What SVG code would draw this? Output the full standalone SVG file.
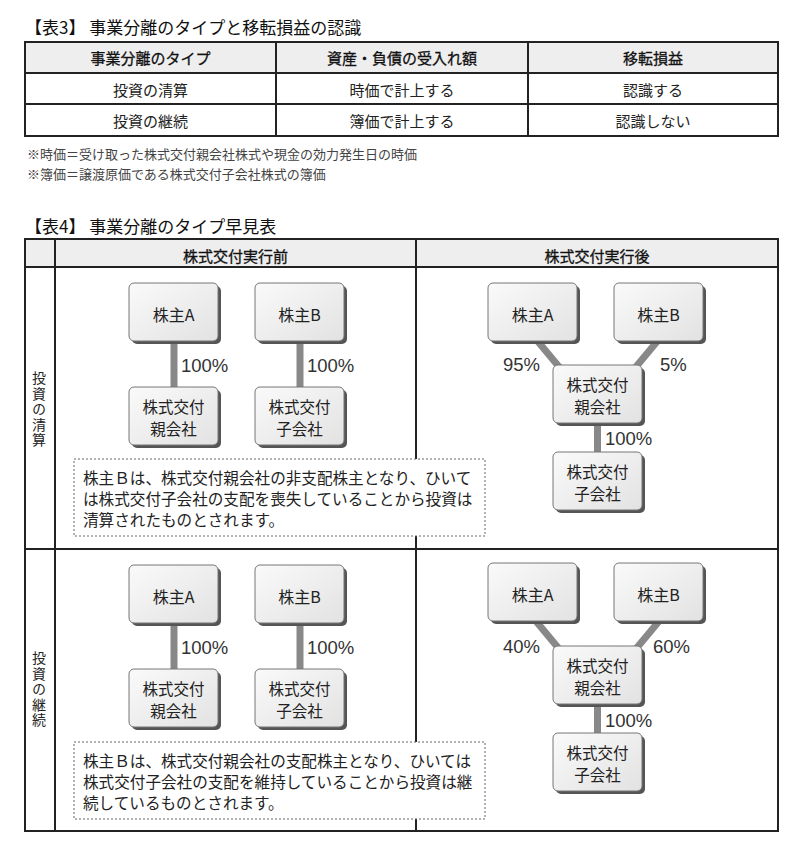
<svg xmlns="http://www.w3.org/2000/svg" width="800" height="851" viewBox="0 0 800 851">
<defs>
<linearGradient id="bg" x1="0" y1="0" x2="1" y2="1">
<stop offset="0" stop-color="#fafafa"/>
<stop offset="1" stop-color="#e2e2e2"/>
</linearGradient>
<style>
text{font-family:"Noto Sans CJK JP","Noto Sans",sans-serif;fill:#222}
.title{font-size:17px;fill:#111}
.th{font-size:15px;text-anchor:middle;fill:#111;stroke:#111;stroke-width:0.3}
.td{font-size:15px;text-anchor:middle}
.note{font-size:13px;fill:#444}
.grid{stroke:#222;stroke-width:2;fill:none}
.hdr{fill:#eeeeee}
.shadow{fill:#555}
.face{fill:url(#bg);stroke:#777;stroke-width:1}
.bl{font-size:16px;text-anchor:middle}
.bl2{font-size:15.5px;text-anchor:middle}
.pct{font-family:"Liberation Sans",Arial,sans-serif;font-size:18.5px;fill:#333}
.bar{stroke:#888;stroke-width:7;fill:none}
.vt{font-size:14px;writing-mode:vertical-rl;letter-spacing:1.5px}
.dash{fill:#fff;stroke:#666;stroke-width:1;stroke-dasharray:2 2}
.para{font-size:15.6px}
</style>
</defs>
<rect width="800" height="851" fill="#fff"/>

<!-- Table 3 -->
<g id="table3">
<text class="title" x="25" y="34">【表3】 事業分離のタイプと移転損益の認識</text>
<rect class="hdr" x="25" y="42" width="753" height="31"/>
<rect class="grid" x="25" y="42" width="753" height="94"/>
<line class="grid" x1="25" y1="73" x2="778" y2="73"/>
<line class="grid" x1="25" y1="104" x2="778" y2="104"/>
<line class="grid" x1="276" y1="42" x2="276" y2="136"/>
<line class="grid" x1="528" y1="42" x2="528" y2="136"/>
<text class="th" x="150.5" y="64">事業分離のタイプ</text>
<text class="th" x="402" y="64">資産・負債の受入れ額</text>
<text class="th" x="653" y="64">移転損益</text>
<text class="td" x="150.5" y="96">投資の清算</text>
<text class="td" x="402" y="96">時価で計上する</text>
<text class="td" x="653" y="96">認識する</text>
<text class="td" x="150.5" y="127">投資の継続</text>
<text class="td" x="402" y="127">簿価で計上する</text>
<text class="td" x="653" y="127">認識しない</text>
<text class="note" x="27" y="159">※時価＝受け取った株式交付親会社株式や現金の効力発生日の時価</text>
<text class="note" x="27" y="179">※簿価＝譲渡原価である株式交付子会社株式の簿価</text>
</g>

<!-- Table 4 frame -->
<g id="table4">
<text class="title" x="25" y="233">【表4】 事業分離のタイプ早見表</text>
<rect class="hdr" x="25" y="239" width="753" height="28"/>
<rect class="grid" x="25" y="239" width="753" height="592"/>
<line class="grid" x1="25" y1="267" x2="778" y2="267"/>
<line class="grid" x1="25" y1="549" x2="778" y2="549"/>
<line class="grid" x1="55" y1="239" x2="55" y2="831"/>
<line class="grid" x1="416" y1="239" x2="416" y2="831"/>
<text class="th" x="235.5" y="262">株式交付実行前</text>
<text class="th" x="597" y="262">株式交付実行後</text>
<text id="label-seisan" class="vt" x="39" y="371">投資の清算</text>
<text id="label-keizoku" class="vt" x="39" y="651">投資の継続</text>
</g>

<!-- Connectors -->
<g id="connectors">
<line class="bar" x1="174" y1="340" x2="174" y2="388"/>
<line class="bar" x1="300" y1="340" x2="300" y2="388"/>
<line class="bar" x1="535" y1="338" x2="560" y2="368"/>
<line class="bar" x1="660" y1="338" x2="635" y2="368"/>
<line class="bar" x1="597.5" y1="421" x2="597.5" y2="453"/>
<line class="bar" x1="174" y1="622" x2="174" y2="670"/>
<line class="bar" x1="300" y1="622" x2="300" y2="670"/>
<line class="bar" x1="535" y1="620" x2="560" y2="650"/>
<line class="bar" x1="660" y1="620" x2="635" y2="650"/>
<line class="bar" x1="597.5" y1="703" x2="597.5" y2="735"/>
<text class="pct" x="181" y="372">100%</text>
<text class="pct" x="307" y="372">100%</text>
<text class="pct" x="503" y="371">95%</text>
<text class="pct" x="660" y="371">5%</text>
<text class="pct" x="605" y="445">100%</text>
<text class="pct" x="181" y="654">100%</text>
<text class="pct" x="307" y="654">100%</text>
<text class="pct" x="503" y="653">40%</text>
<text class="pct" x="653" y="653">60%</text>
<text class="pct" x="605" y="727">100%</text>
</g>

<!-- Row 1 before -->
<g id="r1-before-A"><rect class="shadow" x="132" y="286" width="89" height="58" rx="5"/><rect class="face" x="129" y="283" width="89" height="58" rx="5"/><text class="bl" x="173.5" y="321">株主A</text></g>
<g id="r1-before-B"><rect class="shadow" x="258" y="286" width="89" height="58" rx="5"/><rect class="face" x="255" y="283" width="89" height="58" rx="5"/><text class="bl" x="299.5" y="321">株主B</text></g>
<g id="r1-before-parent"><rect class="shadow" x="132" y="390" width="89" height="58" rx="5"/><rect class="face" x="129" y="387" width="89" height="58" rx="5"/><text class="bl2" x="173.5" y="412.5">株式交付<tspan x="173.5" dy="22.5">親会社</tspan></text></g>
<g id="r1-before-sub"><rect class="shadow" x="258" y="390" width="89" height="58" rx="5"/><rect class="face" x="255" y="387" width="89" height="58" rx="5"/><text class="bl2" x="299.5" y="412.5">株式交付<tspan x="299.5" dy="22.5">子会社</tspan></text></g>
<g id="r1-note"><rect class="dash" x="74" y="459" width="411" height="77"/>
<text class="para" x="83" y="484">株主Ｂは、株式交付親会社の非支配株主となり、ひいて<tspan x="83" dy="21">は株式交付子会社の支配を喪失していることから投資は</tspan><tspan x="83" dy="21">清算されたものとされます。</tspan></text></g>

<!-- Row 1 after -->
<g id="r1-after-A"><rect class="shadow" x="491" y="286" width="89" height="58" rx="5"/><rect class="face" x="488" y="283" width="89" height="58" rx="5"/><text class="bl" x="532.5" y="321">株主A</text></g>
<g id="r1-after-B"><rect class="shadow" x="617" y="286" width="89" height="58" rx="5"/><rect class="face" x="614" y="283" width="89" height="58" rx="5"/><text class="bl" x="658.5" y="321">株主B</text></g>
<g id="r1-after-parent"><rect class="shadow" x="556" y="368" width="89" height="58" rx="5"/><rect class="face" x="553" y="365" width="89" height="58" rx="5"/><text class="bl2" x="597.5" y="390.5">株式交付<tspan x="597.5" dy="22.5">親会社</tspan></text></g>
<g id="r1-after-sub"><rect class="shadow" x="556" y="455" width="89" height="58" rx="5"/><rect class="face" x="553" y="452" width="89" height="58" rx="5"/><text class="bl2" x="597.5" y="477.5">株式交付<tspan x="597.5" dy="22.5">子会社</tspan></text></g>

<!-- Row 2 before -->
<g id="r2-before-A"><rect class="shadow" x="132" y="568" width="89" height="58" rx="5"/><rect class="face" x="129" y="565" width="89" height="58" rx="5"/><text class="bl" x="173.5" y="603">株主A</text></g>
<g id="r2-before-B"><rect class="shadow" x="258" y="568" width="89" height="58" rx="5"/><rect class="face" x="255" y="565" width="89" height="58" rx="5"/><text class="bl" x="299.5" y="603">株主B</text></g>
<g id="r2-before-parent"><rect class="shadow" x="132" y="672" width="89" height="58" rx="5"/><rect class="face" x="129" y="669" width="89" height="58" rx="5"/><text class="bl2" x="173.5" y="694.5">株式交付<tspan x="173.5" dy="22.5">親会社</tspan></text></g>
<g id="r2-before-sub"><rect class="shadow" x="258" y="672" width="89" height="58" rx="5"/><rect class="face" x="255" y="669" width="89" height="58" rx="5"/><text class="bl2" x="299.5" y="694.5">株式交付<tspan x="299.5" dy="22.5">子会社</tspan></text></g>
<g id="r2-note"><rect class="dash" x="74" y="742" width="411" height="77"/>
<text class="para" x="83" y="767">株主Ｂは、株式交付親会社の支配株主となり、ひいては<tspan x="83" dy="21">株式交付子会社の支配を維持していることから投資は継</tspan><tspan x="83" dy="21">続しているものとされます。</tspan></text></g>

<!-- Row 2 after -->
<g id="r2-after-A"><rect class="shadow" x="491" y="566" width="89" height="58" rx="5"/><rect class="face" x="488" y="563" width="89" height="58" rx="5"/><text class="bl" x="532.5" y="601">株主A</text></g>
<g id="r2-after-B"><rect class="shadow" x="617" y="566" width="89" height="58" rx="5"/><rect class="face" x="614" y="563" width="89" height="58" rx="5"/><text class="bl" x="658.5" y="601">株主B</text></g>
<g id="r2-after-parent"><rect class="shadow" x="556" y="649" width="89" height="58" rx="5"/><rect class="face" x="553" y="646" width="89" height="58" rx="5"/><text class="bl2" x="597.5" y="671.5">株式交付<tspan x="597.5" dy="22.5">親会社</tspan></text></g>
<g id="r2-after-sub"><rect class="shadow" x="556" y="736" width="89" height="58" rx="5"/><rect class="face" x="553" y="733" width="89" height="58" rx="5"/><text class="bl2" x="597.5" y="758.5">株式交付<tspan x="597.5" dy="22.5">子会社</tspan></text></g>
</svg>
